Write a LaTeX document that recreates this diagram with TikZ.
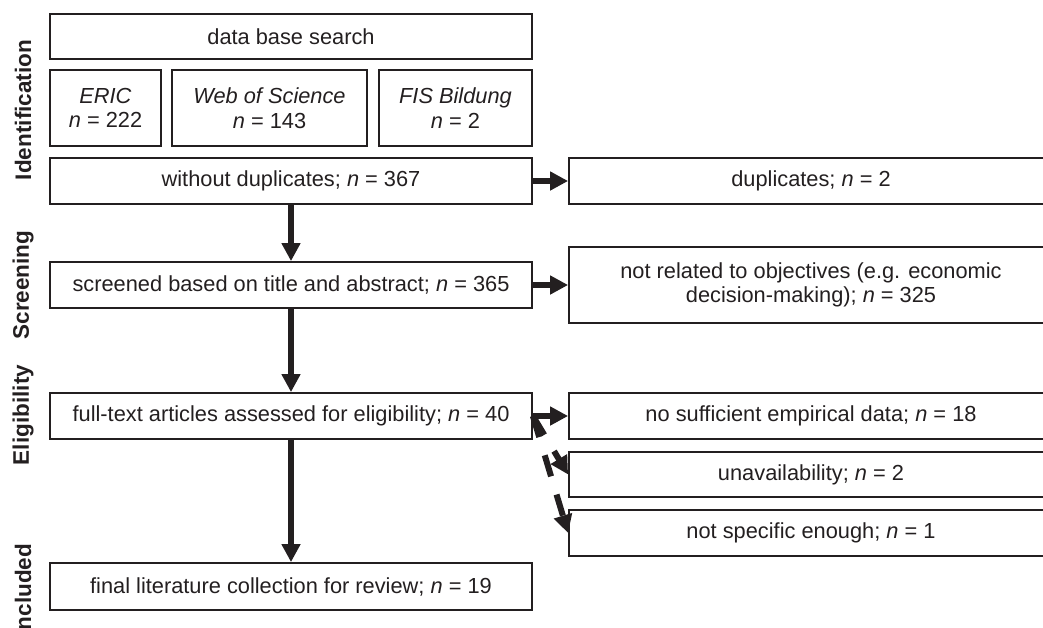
\documentclass[tikz,border=0pt]{standalone}
\usepackage{fontspec}
\setmainfont{Liberation Sans}
\usetikzlibrary{arrows.meta}
\definecolor{ink}{RGB}{35,31,32}
\begin{document}
\begin{tikzpicture}[x=1pt,y=-1pt,
  box/.style={draw=ink, line width=1.8pt, inner sep=0pt, align=center, text=ink,
    font=\fontsize{21.8}{24.5}\selectfont},
  arr/.style={draw=ink, line width=6pt, -{Triangle[width=18pt,length=18pt]}},
  darr/.style={arr, dash pattern=on 22pt off 19pt},
  phase/.style={rotate=90, text=ink, inner sep=0pt, font=\fontsize{22.5}{25}\selectfont\bfseries}]
\useasboundingbox (0,0) rectangle (1043,627);
% left column
\node[box, minimum width=482pt, minimum height=45pt] (dbs) at (291,36.5) {data base search};
\node[box, minimum width=111pt, minimum height=76pt] (eric) at (105.5,108) {\textit{ERIC}\\\textit{n} = 222};
\node[box, minimum width=195pt, minimum height=76pt] (wos) at (269.5,108) {\textit{Web of Science}\\\textit{n} = 143};
\node[box, minimum width=153pt, minimum height=76pt] (fis) at (455.5,108) {\textit{FIS Bildung}\\\textit{n} = 2};
\node[box, minimum width=482pt, minimum height=46pt] (wd) at (291,181) {without duplicates; \textit{n} = 367};
\node[box, minimum width=482pt, minimum height=46pt] (scr) at (291,285) {screened based on title and abstract; \textit{n} = 365};
\node[box, minimum width=482pt, minimum height=46pt] (ft) at (291,416) {full-text articles assessed for eligibility; \textit{n} = 40};
\node[box, minimum width=482pt, minimum height=47pt] (fin) at (291,586.5) {final literature collection for review; \textit{n} = 19};
% right column
\node[box, minimum width=484pt, minimum height=46pt] (dup) at (811,181) {duplicates; \textit{n} = 2};
\node[box, minimum width=484pt, minimum height=76pt] (rel) at (811,285) {not related to objectives (e.g. economic\\decision-making); \textit{n} = 325};
\node[box, minimum width=484pt, minimum height=46pt] (nos) at (811,416) {no sufficient empirical data; \textit{n} = 18};
\node[box, minimum width=484pt, minimum height=45pt] (una) at (811,474.5) {unavailability; \textit{n} = 2};
\node[box, minimum width=484pt, minimum height=46pt] (nsp) at (811,533) {not specific enough; \textit{n} = 1};
% phase labels
\node[phase] (l1) at (23,110) {Identification};
\node[phase] (l2) at (23,285) {Screening};
\node[phase] (l3) at (23,415) {Eligibility};
\node[phase] (l4) at (23,590) {Included};
% connectors
\draw[arr] (wd.south) -- (scr.north);
\draw[arr] (scr.south) -- (ft.north);
\draw[arr] (ft.south) -- (fin.north);
\draw[arr] (wd.east) -- (dup.west);
\draw[arr] (scr.east) -- (rel.west);
\draw[arr] (ft.east) -- (nos.west);
\draw[darr] (ft.east) -- (una.west);
\draw[darr] (ft.east) -- (nsp.west);
\end{tikzpicture}
\end{document}
